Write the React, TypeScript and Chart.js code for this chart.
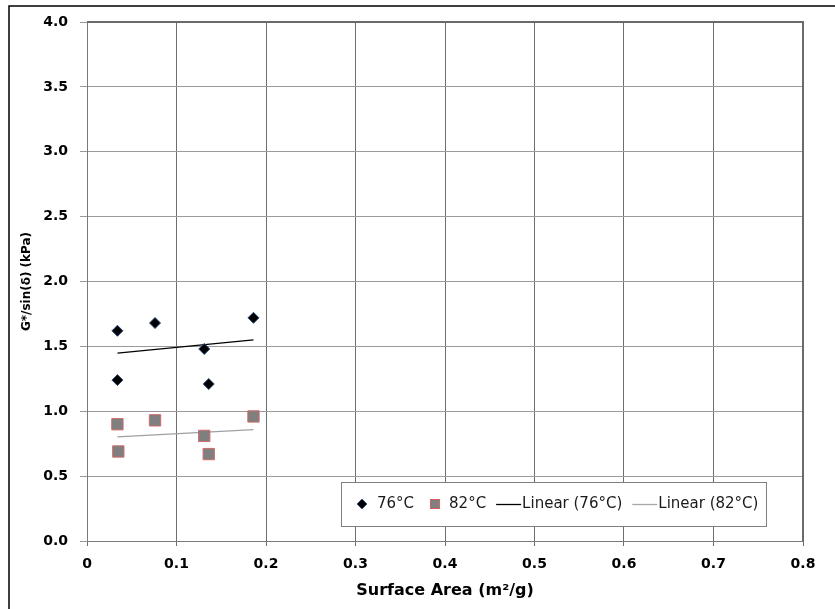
import React, { useEffect, useRef } from "react";
import { Chart, registerables } from "chart.js";

Chart.register(...registerables);

// Data
const surfaceArea76: number[] = [0.034, 0.034, 0.076, 0.131, 0.136, 0.186];
const gSin76: number[] = [1.62, 1.24, 1.68, 1.48, 1.21, 1.72];
const surfaceArea82: number[] = [0.034, 0.035, 0.076, 0.131, 0.136, 0.186];
const gSin82: number[] = [0.90, 0.69, 0.93, 0.81, 0.67, 0.96];

const seriesLabels: string[] = ["76°C", "82°C", "Linear (76°C)", "Linear (82°C)"];
const xTitle = "Surface Area (m²/g)";
const yTitle = "G*/sin(δ) (kPa)";
const xMin = 0, xMax = 0.8, xStep = 0.1;
const yMin = 0, yMax = 4.0, yStep = 0.5;

function linearFit(xs: number[], ys: number[]) {
  const n = xs.length;
  const mx = xs.reduce((a, b) => a + b, 0) / n;
  const my = ys.reduce((a, b) => a + b, 0) / n;
  let sxy = 0, sxx = 0;
  for (let i = 0; i < n; i++) {
    sxy += (xs[i] - mx) * (ys[i] - my);
    sxx += (xs[i] - mx) * (xs[i] - mx);
  }
  const slope = sxy / sxx;
  const icpt = my - slope * mx;
  const x0 = Math.min(...xs), x1 = Math.max(...xs);
  return [
    { x: x0, y: icpt + slope * x0 },
    { x: x1, y: icpt + slope * x1 },
  ];
}

const FONT = "'DejaVu Sans', 'Liberation Sans', Arial, sans-serif";

const framePlugin = {
  id: "frame",
  beforeDraw(chart: any) {
    const ctx = chart.ctx;
    ctx.save();
    ctx.fillStyle = "#ffffff";
    ctx.fillRect(0, 0, chart.width, chart.height);
    ctx.strokeStyle = "#000000";
    ctx.lineWidth = 1.5;
    ctx.beginPath();
    ctx.moveTo(9, chart.height);
    ctx.lineTo(9, 6);
    ctx.lineTo(chart.width, 6);
    ctx.stroke();
    ctx.restore();
  },
  afterDatasetsDraw(chart: any) {
    const { ctx, chartArea: a } = chart;
    ctx.save();
    ctx.strokeStyle = "#7a7a7a";
    ctx.lineWidth = 1;
    ctx.beginPath();
    ctx.moveTo(a.left + 0.5, a.top);
    ctx.lineTo(a.left + 0.5, a.bottom + 0.5);
    ctx.lineTo(a.right, a.bottom + 0.5);
    ctx.stroke();
    ctx.lineWidth = 2;
    ctx.strokeStyle = "#6a6a6a";
    ctx.beginPath();
    ctx.moveTo(a.left, a.top);
    ctx.lineTo(a.right, a.top);
    ctx.lineTo(a.right, a.bottom);
    ctx.stroke();
    ctx.restore();
  },
};

const legendPlugin = {
  id: "customLegend",
  afterDraw(chart: any) {
    const ctx = chart.ctx;
    const boxL = 341, boxT = 482, boxR = 766, boxB = 526;
    const cy = (boxT + boxB) / 2;
    ctx.save();
    ctx.fillStyle = "#ffffff";
    ctx.fillRect(boxL, boxT, boxR - boxL, boxB - boxT);
    ctx.strokeStyle = "#7f7f7f";
    ctx.lineWidth = 1;
    ctx.strokeRect(boxL + 0.5, boxT + 0.5, boxR - boxL, boxB - boxT);
    ctx.font = `15px ${FONT}`;
    ctx.textBaseline = "middle";
    ctx.textAlign = "left";
    let x = 357;
    // diamond
    ctx.fillStyle = "#000000";
    ctx.beginPath();
    ctx.moveTo(x + 5, cy - 5);
    ctx.lineTo(x + 10, cy);
    ctx.lineTo(x + 5, cy + 5);
    ctx.lineTo(x, cy);
    ctx.closePath();
    ctx.fill();
    ctx.strokeStyle = "#2b4a80";
    ctx.lineWidth = 0.8;
    ctx.stroke();
    ctx.fillStyle = "#1a1a1a";
    x += 20;
    ctx.fillText(seriesLabels[0], x, cy);
    x += ctx.measureText(seriesLabels[0]).width + 16;
    // square
    ctx.fillStyle = "#808080";
    ctx.fillRect(x, cy - 4.5, 9, 9);
    ctx.strokeStyle = "#d06060";
    ctx.lineWidth = 1;
    ctx.strokeRect(x + 0.5, cy - 4.5, 9, 9);
    ctx.fillStyle = "#1a1a1a";
    x += 19;
    ctx.fillText(seriesLabels[1], x, cy);
    x += ctx.measureText(seriesLabels[1]).width + 10;
    // line 76
    ctx.strokeStyle = "#000000";
    ctx.lineWidth = 1.3;
    ctx.beginPath();
    ctx.moveTo(x, cy + 0.5);
    ctx.lineTo(x + 25, cy + 0.5);
    ctx.stroke();
    x += 26;
    ctx.fillText(seriesLabels[2], x, cy);
    x += ctx.measureText(seriesLabels[2]).width + 10;
    // line 82
    ctx.strokeStyle = "#a6a6a6";
    ctx.lineWidth = 1.3;
    ctx.beginPath();
    ctx.moveTo(x, cy + 0.5);
    ctx.lineTo(x + 25, cy + 0.5);
    ctx.stroke();
    x += 26;
    ctx.fillText(seriesLabels[3], x, cy);
    ctx.restore();
  },
};

export default function App() {
  const ref = useRef<HTMLCanvasElement | null>(null);

  useEffect(() => {
    if (!ref.current) return;
    const pts76 = surfaceArea76.map((x, i) => ({ x, y: gSin76[i] }));
    const pts82 = surfaceArea82.map((x, i) => ({ x, y: gSin82[i] }));
    const chart = new Chart(ref.current, {
      type: "scatter",
      data: {
        datasets: [
          {
            label: seriesLabels[0],
            data: pts76,
            pointStyle: "rectRot",
            pointRadius: 5.5,
            backgroundColor: "#000000",
            borderColor: "#2b4a80",
            borderWidth: 1,
            order: 1,
          },
          {
            label: seriesLabels[1],
            data: pts82,
            pointStyle: "rect",
            pointRadius: 8,
            backgroundColor: "#7f7f7f",
            borderColor: "#d06a6a",
            borderWidth: 1,
            order: 2,
          },
          {
            label: seriesLabels[2],
            data: linearFit(surfaceArea76, gSin76),
            showLine: true,
            pointRadius: 0,
            borderColor: "#000000",
            borderWidth: 1.2,
            order: 3,
          },
          {
            label: seriesLabels[3],
            data: linearFit(surfaceArea82, gSin82),
            showLine: true,
            pointRadius: 0,
            borderColor: "#a0a0a0",
            borderWidth: 1.2,
            order: 4,
          },
        ],
      },
      options: {
        animation: false,
        responsive: false,
        maintainAspectRatio: false,
        layout: { padding: { left: 0, top: 22, right: 32, bottom: 0 } },
        plugins: {
          legend: { display: false },
          tooltip: { enabled: false },
        },
        scales: {
          x: {
            type: "linear",
            min: xMin,
            max: xMax,
            afterFit(scale: any) {
              scale.height = 68;
            },
            ticks: {
              stepSize: xStep,
              padding: 10,
              color: "#000000",
              font: { family: FONT, size: 14, weight: "bold" },
              callback: (v: any) => (Number(v) === 0 ? "0" : Number(v).toFixed(1)),
              maxRotation: 0,
            },
            grid: {
              color: "#6e6e6e",
              lineWidth: 1,
              tickLength: 5,
            },
            border: { display: false },
            title: {
              display: true,
              text: xTitle,
              color: "#000000",
              font: { family: FONT, size: 16, weight: "bold" },
              padding: { top: 0, bottom: 9 },
            },
          },
          y: {
            type: "linear",
            min: yMin,
            max: yMax,
            afterFit(scale: any) {
              scale.width = 87;
            },
            ticks: {
              stepSize: yStep,
              padding: 12,
              color: "#000000",
              font: { family: FONT, size: 14, weight: "bold" },
              callback: (v: any) => Number(v).toFixed(1),
            },
            grid: {
              color: "#9a9a9a",
              lineWidth: 1,
              tickLength: 7,
            },
            border: { display: false },
            title: {
              display: true,
              text: yTitle,
              color: "#000000",
              font: { family: FONT, size: 12, weight: "bold" },
              padding: { top: 20, bottom: 0 },
            },
          },
        },
      },
      plugins: [framePlugin, legendPlugin],
    });
    return () => chart.destroy();
  }, []);

  return (
    <div style={{ position: "fixed", left: 0, top: 0, width: 835, height: 609, background: "#fff" }}>
      <canvas ref={ref} width={835} height={609} style={{ display: "block" }} />
    </div>
  );
}
